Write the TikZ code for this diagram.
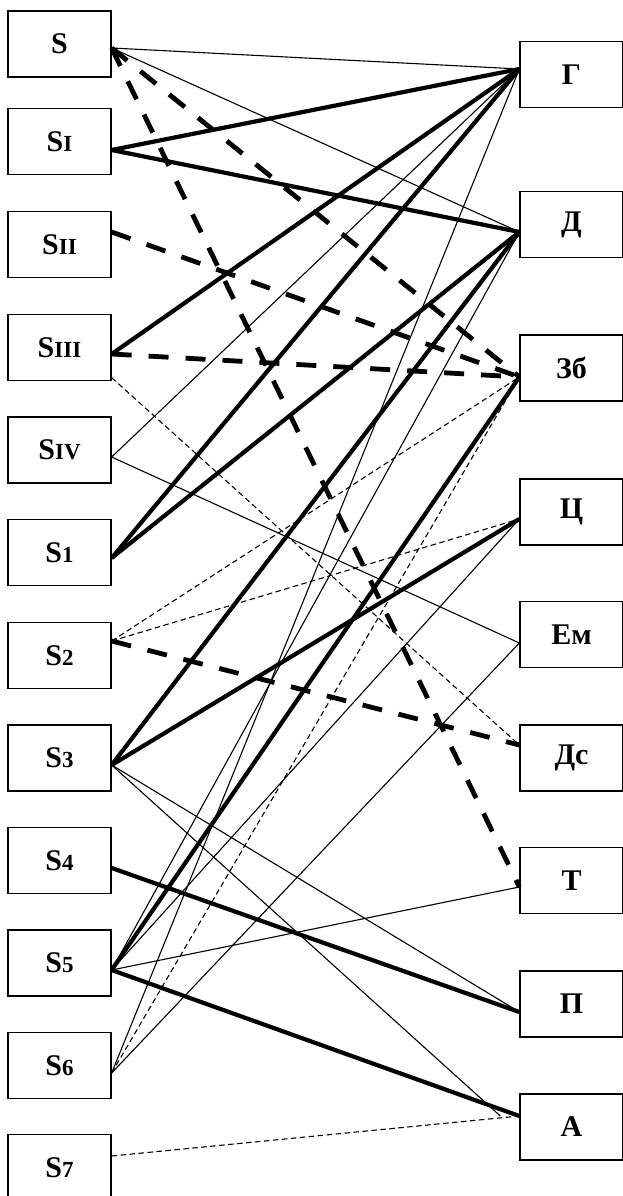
\documentclass[tikz,border=0pt]{standalone}
\usepackage{fontspec}
\setmainfont{Liberation Serif}
\newcommand{\sidx}[1]{{\fontsize{23}{26}\selectfont #1}}

\begin{document}
\begin{tikzpicture}[x=1pt, y=-1pt,
    box/.style={draw, line width=1.3pt, minimum width=103pt, minimum height=66pt,
        inner sep=0pt, font=\fontsize{30}{33}\selectfont\bfseries},
    lnk/.style={line width=1.1pt},
    heavy/.style={line width=4.2pt},
    heavydash/.style={line width=4.8pt, dash pattern=on 20pt off 17pt},
    lightdash/.style={line width=1.1pt, dash pattern=on 5.5pt off 3.5pt},
]
\useasboundingbox (0,0) rectangle (622,1196);

% Left column
\node[box] (S)    at (59.5,44)     {S};
\node[box] (SI)   at (59.5,141.5)  {S\sidx{I}};
\node[box] (SII)  at (59.5,244.5)  {S\sidx{II}};
\node[box] (SIII) at (59.5,347.5)  {S\sidx{III}};
\node[box] (SIV)  at (59.5,450)    {S\sidx{IV}};
\node[box] (S1)   at (59.5,552.5)  {S\sidx{1}};
\node[box] (S2)   at (59.5,655.5)  {S\sidx{2}};
\node[box] (S3)   at (59.5,758)    {S\sidx{3}};
\node[box] (S4)   at (59.5,860.5)  {S\sidx{4}};
\node[box] (S5)   at (59.5,963)    {S\sidx{5}};
\node[box] (S6)   at (59.5,1065.5) {S\sidx{6}};
\node[box] (S7)   at (59.5,1167.5) {S\sidx{7}};

% Right column
\node[box] (G)  at (571.5,74.5)  {Г};
\node[box] (D)  at (571.5,224.5) {Д};
\node[box] (Zb) at (571.5,368)   {Зб};
\node[box] (C)  at (571.5,512)   {Ц};
\node[box] (Em) at (571.5,634.5) {Ем};
\node[box] (Ds) at (571.5,758)   {Дс};
\node[box] (T)  at (571.5,880.5) {Т};
\node[box] (P)  at (571.5,1004)  {П};
\node[box] (A)  at (571.5,1127)  {А};

% Ports on the box sides
\coordinate (pS)    at ([yshift=-4pt]S.east);
\coordinate (pSI)   at ([yshift=-8.5pt]SI.east);
\coordinate (pSII)  at ([yshift=12.5pt]SII.east);
\coordinate (pSIII) at ([yshift=-6.5pt]SIII.east);
\coordinate (qSIII) at ([yshift=3.5pt]SIII.south east);
\coordinate (pSIV)  at ([yshift=-7pt]SIV.east);
\coordinate (pS1)   at ([yshift=-5.5pt]S1.east);
\coordinate (pS2)   at ([yshift=14.5pt]S2.east);
\coordinate (pS3)   at ([yshift=-7pt]S3.east);
\coordinate (pS4)   at ([yshift=-7.5pt]S4.east);
\coordinate (pS5)   at ([yshift=-7pt]S5.east);
\coordinate (pS6)   at ([yshift=-7.5pt]S6.east);
\coordinate (pS7)   at ([yshift=11.5pt]S7.east);

\coordinate (pG)  at ([yshift=5.5pt]G.west);
\coordinate (pD)  at ([yshift=-7.5pt]D.west);
\coordinate (pZb) at ([yshift=-9pt]Zb.west);
\coordinate (pC)  at ([yshift=-7pt]C.west);
\coordinate (pEm) at ([yshift=-8.5pt]Em.west);
\coordinate (pDs) at ([yshift=13pt]Ds.west);
\coordinate (pT)  at ([yshift=-6.5pt]T.west);
\coordinate (pP)  at ([yshift=-8pt]P.west);
\coordinate (pA)  at ([yshift=11pt]A.west);

% Thin links
\draw[lnk] (pS) -- (pG);
\draw[lnk] (pS) -- (pD);
\draw[lnk] (pSIV) -- (pG);
\draw[lnk] (pSIV) -- (pEm);
\draw[lnk] (pS3) -- (pP);
\draw[lnk] (pS3) -- ([xshift=-19pt]pA);
\draw[lnk] (pS5) -- (pD);
\draw[lnk] (pS5) -- (pC);
\draw[lnk] (pS5) -- (pT);
\draw[lnk] (pS6) -- (pG);
\draw[lnk] (pS6) -- (pEm);

% Heavy links
\draw[heavy] (pSI) -- (pG);
\draw[heavy] (pSI) -- (pD);
\draw[heavy] (pSIII) -- (pG);
\draw[heavy] (pS1) -- (pG);
\draw[heavy] (pS1) -- (pD);
\draw[heavy] (pS3) -- (pD);
\draw[heavy] (pS3) -- (pC);
\draw[heavy] (pS4) -- (pP);
\draw[heavy] (pS5) -- (pZb);
\draw[heavy] (pS5) -- (pA);

% Heavy dashed links
\draw[heavydash] (pS) -- (pZb);
\draw[heavydash] (pS) -- (pT);
\draw[heavydash] (pSII) -- (pZb);
\draw[heavydash] (pSIII) -- (pZb);
\draw[heavydash] (pS2) -- (pDs);

% Light dashed links
\draw[lightdash] (qSIII) -- (pDs);
\draw[lightdash] (pS2) -- (pZb);
\draw[lightdash] (pS2) -- (pC);
\draw[lightdash] (pS6) -- (pZb);
\draw[lightdash] (pS7) -- (pA);

\end{tikzpicture}
\end{document}
